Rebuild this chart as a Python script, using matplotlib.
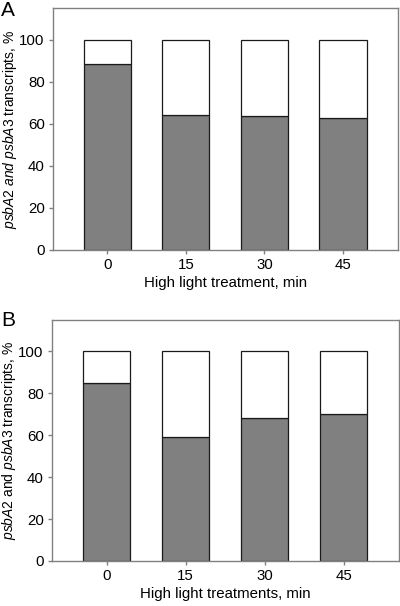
import numpy as np
import matplotlib
matplotlib.use("Agg")
import matplotlib.pyplot as plt

plt.rcParams['font.family'] = ['Liberation Sans', 'DejaVu Sans']
plt.rcParams['mathtext.fontset'] = 'custom'
plt.rcParams['mathtext.rm'] = 'Liberation Sans'
plt.rcParams['mathtext.it'] = 'Liberation Sans:italic'

# data
times = ['0', '15', '30', '45']
psbA2_A = [88.5, 64.0, 63.7, 62.8]
psbA2_B = [85.0, 59.0, 68.0, 70.0]
total = [100, 100, 100, 100]

fig = plt.figure(figsize=(4, 6.06), dpi=100)
axA = fig.add_axes([0.1325, 0.5875, 0.8625, 0.399])
axB = fig.add_axes([0.13, 0.0743, 0.8675, 0.398])

labels = {
    'A': (r'$\mathit{psbA2\ and\ psbA3}$ transcripts, %', 'High light treatment, min'),
    'B': (r'$\mathit{psbA2}$ and $\mathit{psbA3}$ transcripts, %', 'High light treatments, min'),
}

for ax, vals, key in [(axA, psbA2_A, 'A'), (axB, psbA2_B, 'B')]:
    x = np.arange(len(times))
    rest = np.array(total) - np.array(vals)
    ax.bar(x, vals, width=0.6, color='#808080', edgecolor='#1a1a1a', linewidth=0.9)
    ax.bar(x, rest, bottom=vals, width=0.6, color='white', edgecolor='#1a1a1a', linewidth=0.9)
    ax.set_xlim(-0.69, 3.7)
    ax.set_ylim(0, 115)
    ax.set_yticks([0, 20, 40, 60, 80, 100])
    ax.set_xticks(x)
    ax.set_xticklabels(times)
    for s in ax.spines.values():
        s.set_color('#808080')
        s.set_linewidth(1.0)
    ax.tick_params(axis='both', direction='out', length=3, width=1, color='#808080',
                   labelsize=10.8, labelcolor='black', pad=3)
    ylab, xlab = labels[key]
    ax.set_ylabel(ylab, fontsize=10.0)
    ax.yaxis.set_label_coords(-0.098, 0.5)
    ax.set_xlabel(xlab, fontsize=10.8, labelpad=3)

fig.text(0.003, 0.999, 'A', fontsize=15, ha='left', va='top')
fig.text(0.003, 0.486, 'B', fontsize=15, ha='left', va='top')

fig.savefig('out.png', dpi=100)
